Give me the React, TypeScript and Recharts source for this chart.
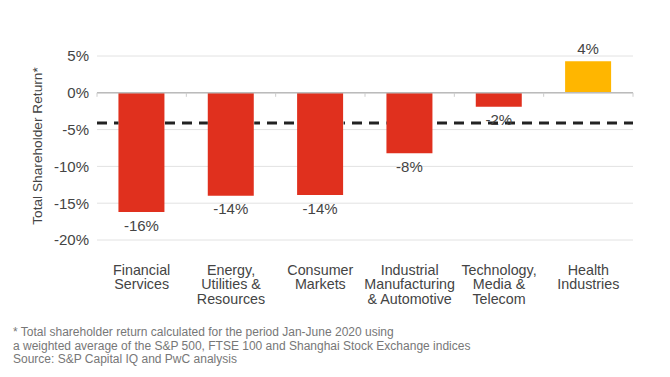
import { BarChart, Bar, Cell, XAxis, YAxis, CartesianGrid, ReferenceLine, LabelList } from 'recharts';

const categories = [
  'Financial\nServices',
  'Energy,\nUtilities &\nResources',
  'Consumer\nMarkets',
  'Industrial\nManufacturing\n& Automotive',
  'Technology,\nMedia &\nTelecom',
  'Health\nIndustries',
];
const returns = [-16.2, -14.0, -13.9, -8.2, -1.9, 4.3];
const valueLabels = ['-16%', '-14%', '-14%', '-8%', '-2%', '4%'];
const yTicks = [-20, -15, -10, -5, 0, 5];
const average = -4.1;
const footnote = [
  '* Total shareholder return calculated for the period Jan-June 2020 using',
  'a weighted average of the S&P 500, FTSE 100 and Shanghai Stock Exchange indices',
  'Source: S&P Capital IQ and PwC analysis',
];

const RED = '#e0301e';
const YELLOW = '#ffb600';
const FONT = '"Liberation Sans", Arial, Helvetica, sans-serif';
const GAP = 0.24;

const data = categories.map((name, i) => ({ name, value: returns[i], label: valueLabels[i] }));

const CategoryTick = (props: any) => {
  const { x, y, payload } = props;
  const lines = String(payload.value).split('\n');
  return (
    <g>
      {lines.map((line, i) => (
        <text
          key={i}
          x={x}
          y={y + 22 + i * 14.4}
          textAnchor="middle"
          dominantBaseline="central"
          fontSize={14.3}
          fill="#444"
          fontFamily={FONT}
        >
          {line}
        </text>
      ))}
    </g>
  );
};

// dashed average line, broken where a bar crosses it so it sits behind the bars
const AverageLine = (props: any) => {
  const { x1, y1, x2 } = props;
  const n = categories.length;
  const band = (x2 - x1) / n;
  const segs: [number, number][] = [];
  let cur = x1;
  returns.forEach((v, i) => {
    if (v < average) {
      segs.push([cur, x1 + i * band + band * GAP]);
      cur = x1 + (i + 1) * band - band * GAP;
    }
  });
  segs.push([cur, x2]);
  return (
    <g>
      {segs.map(([a, b], i) => (
        <line
          key={i}
          x1={a}
          y1={y1}
          x2={b}
          y2={y1}
          stroke="#222"
          strokeWidth={3}
          strokeDasharray="10 7"
          strokeDashoffset={a - x1}
        />
      ))}
    </g>
  );
};

const ZeroAxis = (props: any) => {
  const { x1, y1, x2 } = props;
  const n = categories.length;
  const ticks = Array.from({ length: n + 1 }, (_, i) => x1 + ((x2 - x1) * i) / n);
  return (
    <g>
      <line x1={x1} y1={y1} x2={x2} y2={y1} stroke="#bbb" strokeWidth={1.5} />
      {ticks.map((tx, i) => (
        <line key={i} x1={tx} y1={y1} x2={tx} y2={y1 + 4} stroke="#ccc" strokeWidth={1} />
      ))}
    </g>
  );
};

const ValueLabel = (props: any) => {
  const { x, y, width, height, index } = props;
  const v = returns[index];
  const top = Math.min(y, y + height);
  const bottom = Math.max(y, y + height);
  const ty = v >= 0 ? top - 13 : bottom + 13;
  return (
    <text x={x + width / 2} y={ty} textAnchor="middle" dominantBaseline="central" fontSize={15} fill="#444" fontFamily={FONT}>
      {valueLabels[index]}
    </text>
  );
};

const YLabel = () => (
  <text
    x={37}
    y={146}
    transform="rotate(-90 37 146)"
    textAnchor="middle"
    dominantBaseline="central"
    fontSize={13.7}
    fill="#444"
    fontFamily={FONT}
  >
    Total Shareholder Return*
  </text>
);

export default function App() {
  return (
    <div style={{ position: 'absolute', left: 0, top: 0, width: 670, height: 377, background: '#fff', fontFamily: FONT }}>
      <BarChart
        width={670}
        height={310}
        data={data}
        margin={{ top: 56, right: 37, bottom: 0, left: 0 }}
        barCategoryGap={`${GAP * 100}%`}
      >
        <CartesianGrid vertical={false} stroke="#e2e2e2" />
        <XAxis dataKey="name" axisLine={false} tickLine={false} height={70} interval={0} tick={<CategoryTick />} />
        <YAxis
          width={97}
          domain={[-20, 5]}
          ticks={yTicks}
          axisLine={false}
          tickLine={false}
          tickFormatter={(v: number) => `${v}%`}
          tick={{ fontSize: 15, fill: '#444', fontFamily: FONT }}
          label={<YLabel />}
        />
        <Bar dataKey="value" isAnimationActive={false}>
          {data.map((d, i) => (
            <Cell key={i} fill={d.value >= 0 ? YELLOW : RED} />
          ))}
          <LabelList dataKey="label" content={<ValueLabel />} />
        </Bar>
        <ReferenceLine y={average} shape={<AverageLine />} />
        <ReferenceLine y={0} shape={<ZeroAxis />} />
      </BarChart>
      <div style={{ position: 'absolute', left: 13, top: 326, fontSize: 12, lineHeight: '13.7px', color: '#777' }}>
        {footnote.map((line, i) => (
          <div key={i}>{line}</div>
        ))}
      </div>
    </div>
  );
}
